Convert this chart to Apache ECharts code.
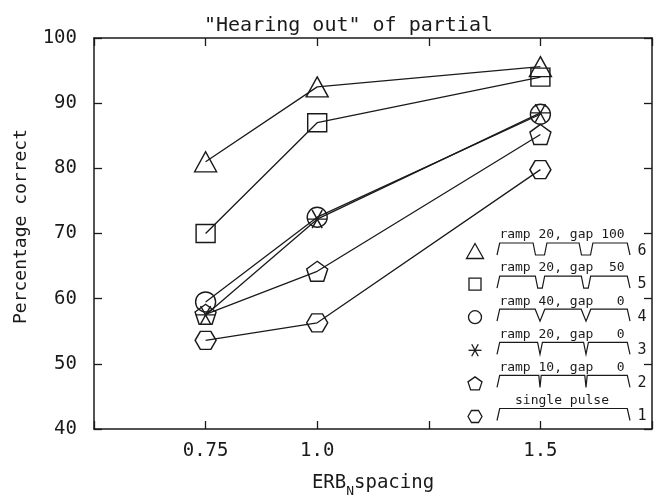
<!DOCTYPE html>
<html>
<head>
<meta charset="utf-8">
<title>Hearing out of partial</title>
<script src="https://cdn.jsdelivr.net/npm/echarts@6/dist/echarts.min.js"></script>
<style>
  html, body { margin: 0; padding: 0; background: #fff; }
  #chart { width: 654px; height: 500px; }
</style>
</head>
<body>
<div id="chart"></div>
<script>
// ERB_N spacing of the partials
const spacing = [0.75, 1.0, 1.5];
const xTickValues = [0.75, 1.0, 1.5];
const xTickLabels = ['0.75', '1.0', '1.5'];

// percentage correct for each stimulus condition (6 = top of legend)
const cond6 = [81.0, 92.5, 95.6];
const cond5 = [70.0, 87.0, 94.0];
const cond4 = [59.5, 72.5, 88.3];
const cond3 = [57.5, 72.2, 88.5];
const cond2 = [57.6, 64.2, 85.2];
const cond1 = [53.6, 56.3, 79.8];

const condLabels = ['ramp 20, gap 100', 'ramp 20, gap  50', 'ramp 40, gap   0',
                    'ramp 20, gap   0', 'ramp 10, gap   0', 'single pulse'];
const condNumbers = ['6', '5', '4', '3', '2', '1'];
const rampMs = [20, 20, 40, 20, 10, null];
const gapMs = [100, 50, 0, 0, 0, null];

const ink = '#1a1a1a';
const mono = '"DejaVu Sans Mono", "Liberation Mono", monospace';

// symbol outlines (unit coords), drawn hollow
const shapes = [
  { kind: 'poly', pts: [[0, -1], [1, 1], [-1, 1]], size: [22, 20], leg: [17, 15] },            // triangle
  { kind: 'poly', pts: [[-1, -1], [1, -1], [1, 1], [-1, 1]], size: [19, 18], leg: [12, 12] },   // square
  { kind: 'circle', size: [20, 20], leg: [13, 13] },                                           // circle
  { kind: 'star', size: [20, 18], leg: [13, 12] },                                             // asterisk
  { kind: 'poly', pts: [[0, -1], [0.951, -0.309], [0.588, 0.809], [-0.588, 0.809], [-0.951, -0.309]], size: [21, 20], leg: [14, 13] },
  { kind: 'poly', pts: [[-1, 0], [-0.5, -0.866], [0.5, -0.866], [1, 0], [0.5, 0.866], [-0.5, 0.866]], size: [21, 18], leg: [14, 12] }
];
const starLines = [[[-1, 0], [1, 0]], [[-0.5, -0.866], [0.5, 0.866]], [[0.5, -0.866], [-0.5, 0.866]]];

function symbolOf(s) {
  if (s.kind === 'circle') return 'circle';
  if (s.kind === 'star') return 'path://' + starLines.map(l => 'M' + l[0].join(',') + 'L' + l[1].join(',')).join('');
  return 'path://M' + s.pts.map(p => p.join(',')).join('L') + 'Z';
}

const allConds = [cond6, cond5, cond4, cond3, cond2, cond1];

const series = allConds.map((vals, i) => ({
  name: condNumbers[i],
  type: 'line',
  data: spacing.map((x, j) => [x, vals[j]]),
  symbol: symbolOf(shapes[i]),
  symbolSize: shapes[i].size,
  showAllSymbol: true,
  lineStyle: { color: ink, width: 1.3 },
  itemStyle: { color: 'rgba(0,0,0,0)', borderColor: ink, borderWidth: 1.4 },
  emphasis: { disabled: true },
  z: 3
}));

// legend: symbol, condition label, stimulus envelope sketch, number
const graphics = [];
const rowY0 = 249, rowStep = 33.1;
const x0 = 497, x1 = 630, dips = [540, 586], onset = 2.7, half = 6;
const symStyle = { fill: 'none', stroke: ink, lineWidth: 1.3 };
condLabels.forEach((lab, i) => {
  const y = rowY0 + rowStep * i;
  const top = y - half, bot = y + half;
  const s = shapes[i], cx = 475, cy = y + 2, hw = s.leg[0] / 2, hh = s.leg[1] / 2;
  if (s.kind === 'circle') {
    graphics.push({ type: 'circle', shape: { cx: cx, cy: cy, r: hw }, style: symStyle });
  } else if (s.kind === 'star') {
    starLines.forEach(l => graphics.push({
      type: 'line',
      shape: { x1: cx + l[0][0] * hw, y1: cy + l[0][1] * hh / 0.866, x2: cx + l[1][0] * hw, y2: cy + l[1][1] * hh / 0.866 },
      style: symStyle
    }));
  } else {
    const ys = s.pts.map(p => p[1]);
    const ymin = Math.min(...ys), ymax = Math.max(...ys), xs = s.pts.map(p => p[0]);
    const xmin = Math.min(...xs), xmax = Math.max(...xs);
    graphics.push({
      type: 'polygon',
      shape: { points: s.pts.map(p => [cx - hw + (p[0] - xmin) / (xmax - xmin) * 2 * hw,
                                       cy - hh + (p[1] - ymin) / (ymax - ymin) * 2 * hh]) },
      style: symStyle
    });
  }
  graphics.push({
    type: 'text', x: 562, y: y - 14,
    style: { text: lab, font: '13px ' + mono, fill: ink, align: 'center', verticalAlign: 'middle' }
  });
  graphics.push({
    type: 'text', x: 642, y: y + 2,
    style: { text: condNumbers[i], font: '15px ' + mono, fill: ink, align: 'center', verticalAlign: 'middle' }
  });
  const pts = [[x0, bot], [x0 + onset, top]];
  if (rampMs[i] !== null) {
    const r = rampMs[i] * 0.12, g = gapMs[i] * 0.09;
    dips.forEach(c => {
      pts.push([c - g / 2 - r, top], [c - g / 2, bot], [c + g / 2, bot], [c + g / 2 + r, top]);
    });
  }
  pts.push([x1 - onset, top], [x1, bot]);
  graphics.push({
    type: 'polyline',
    shape: { points: pts },
    style: { fill: 'none', stroke: ink, lineWidth: 1.2 }
  });
});

const axisLine = { onZero: false, lineStyle: { color: ink, width: 1.5 } };
const tick = { inside: true, length: 8, lineStyle: { color: ink, width: 1.3 } };

const option = {
  backgroundColor: '#fff',
  animation: false,
  title: {
    text: '"Hearing out" of partial',
    left: 199, top: 11,
    textStyle: { fontFamily: mono, fontSize: 20, fontWeight: 'normal', color: ink }
  },
  grid: { left: 94, right: 2, top: 38, bottom: 71, containLabel: false, outerBoundsMode: 'none' },
  xAxis: [{
    type: 'value', min: 0.5, max: 1.75, interval: 0.25, position: 'bottom',
    axisLine: axisLine, axisTick: tick, splitLine: { show: false },
    axisLabel: {
      fontFamily: mono, fontSize: 19, color: ink, margin: 13,
      formatter: v => {
        const k = xTickValues.findIndex(t => Math.abs(t - v) < 1e-6);
        return k >= 0 ? xTickLabels[k] : '';
      }
    },
    name: '{m|ERB}{sub|N}{m|spacing}',
    nameLocation: 'middle', nameGap: 39,
    nameTextStyle: {
      rich: {
        m: { fontFamily: mono, fontSize: 19, color: ink },
        sub: { fontFamily: mono, fontSize: 13, color: ink, verticalAlign: 'bottom', lineHeight: 30 }
      }
    }
  }, {
    type: 'value', min: 0.5, max: 1.75, interval: 0.25, position: 'top',
    axisLine: axisLine, axisTick: tick, axisLabel: { show: false }, splitLine: { show: false }
  }],
  yAxis: [{
    type: 'value', min: 40, max: 100, interval: 10, position: 'left',
    axisLine: axisLine, axisTick: tick, splitLine: { show: false },
    axisLabel: { fontFamily: mono, fontSize: 19, color: ink, margin: 17 },
    name: 'Percentage correct', nameLocation: 'middle', nameGap: 64, nameRotate: 90,
    nameTextStyle: { fontFamily: mono, fontSize: 18, color: ink, padding: [0, 0, 0, 14] }
  }, {
    type: 'value', min: 40, max: 100, interval: 10, position: 'right',
    axisLine: axisLine, axisTick: tick, axisLabel: { show: false }, splitLine: { show: false }
  }],
  series: series,
  graphic: graphics
};

const chart = echarts.init(document.getElementById('chart'), null, { renderer: 'canvas' });
chart.setOption(option);
</script>
</body>
</html>
